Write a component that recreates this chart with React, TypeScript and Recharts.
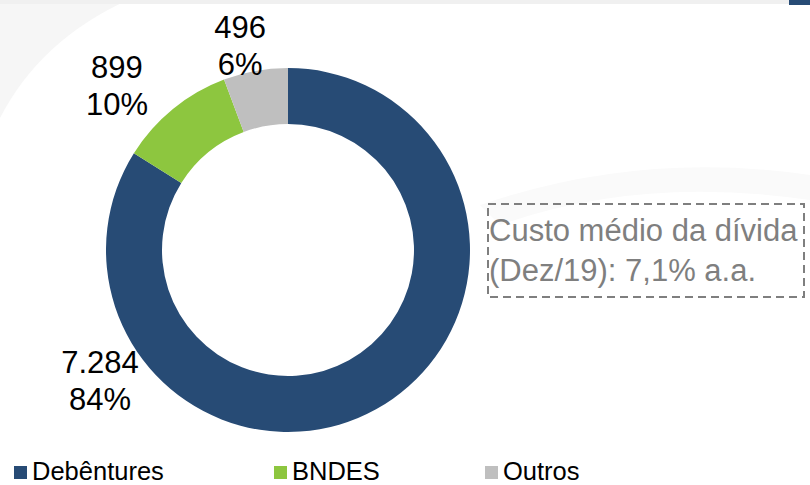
import React from "react";
import { PieChart, Pie, Cell, Legend } from "recharts";

const categories = ["Debêntures", "BNDES", "Outros"];
const values = [7284, 899, 496];
const colors = ["#274B75", "#8DC63F", "#BFBFBF"];
const noteLines = ["Custo médio da dívida", "(Dez/19): 7,1% a.a."];

const data = categories.map((name, i) => ({ name, value: values[i] }));

// polar placement of each label block relative to the pie centre (deg, px)
const LABEL_PLACEMENT = [
  { angle: -145.2, dist: 229 },
  { angle: 136.2, dist: 237 },
  { angle: 103.2, dist: 210 },
];

const FONT = "'Liberation Sans', Arial, sans-serif";

const fmt = (v: number) => String(v).replace(/\B(?=(\d{3})+(?!\d))/g, ".");

const renderLabel = (props: any) => {
  const { cx, cy, index, value, percent } = props;
  const p = LABEL_PLACEMENT[index];
  const rad = (p.angle * Math.PI) / 180;
  const x = cx + p.dist * Math.cos(rad);
  const y = cy - p.dist * Math.sin(rad);
  return (
    <text
      key={`lbl-${index}`}
      textAnchor="middle"
      fontFamily={FONT}
      fontSize={31}
      fill="#000"
    >
      <tspan x={x} y={y - 18.5} dominantBaseline="central">
        {fmt(value)}
      </tspan>
      <tspan x={x} y={y + 18.5} dominantBaseline="central">
        {Math.round(percent * 100)}%
      </tspan>
    </text>
  );
};

const legendOffsets = [14, 274, 485];

const renderLegend = () => (
  <div style={{ position: "relative", width: 810, height: 25 }}>
    {categories.map((c, i) => (
      <div
        key={c}
        style={{
          position: "absolute",
          left: legendOffsets[i],
          top: 0,
          height: 25,
          display: "flex",
          alignItems: "flex-start",
          whiteSpace: "nowrap",
        }}
      >
        <div
          style={{
            width: 13,
            height: 13,
            background: colors[i],
            marginTop: 7,
            marginRight: 5,
          }}
        />
        <span
          style={{
            fontFamily: FONT,
            fontSize: 25.5,
            lineHeight: "25px",
            color: "#000",
          }}
        >
          {c}
        </span>
      </div>
    ))}
  </div>
);

export default function App() {
  return (
    <div
      style={{
        position: "fixed",
        left: 0,
        top: 0,
        width: 810,
        height: 485,
        background: "#fff",
        overflow: "hidden",
      }}
    >
      <svg
        width={810}
        height={485}
        style={{ position: "absolute", left: 0, top: 0 }}
      >
        <path d="M0,0 L128,0 Q40,40 0,118 Z" fill="#F6F6F6" />
        <path
          d="M480,205 Q640,150 810,175 L810,200 Q640,175 500,225 Z"
          fill="#FAFAFA"
        />
        <rect x={0} y={0} width={810} height={4} fill="#F0F0F0" />
        <rect x={789} y={0} width={21} height={5} fill="#274B75" />
      </svg>
      <div style={{ position: "absolute", left: 0, top: 0 }}>
        <PieChart
          width={810}
          height={485}
          margin={{ top: 0, right: 0, bottom: 0, left: 0 }}
        >
          <Pie
            data={data}
            dataKey="value"
            nameKey="name"
            cx={288}
            cy={250}
            innerRadius={126}
            outerRadius={182}
            startAngle={90}
            endAngle={-270}
            stroke="none"
            isAnimationActive={false}
            label={renderLabel}
            labelLine={false}
          >
            {data.map((d, i) => (
              <Cell key={d.name} fill={colors[i]} />
            ))}
          </Pie>
          <Legend
            content={renderLegend}
            wrapperStyle={{
              position: "absolute",
              left: 0,
              top: 459,
              width: 810,
              height: 25,
            }}
          />
        </PieChart>
      </div>
      <svg
        width={810}
        height={485}
        style={{ position: "absolute", left: 0, top: 0, pointerEvents: "none" }}
      >
        <rect
          x={488}
          y={204}
          width={316}
          height={93}
          fill="none"
          stroke="#7F7F7F"
          strokeWidth={2}
          strokeDasharray="8 5"
        />
        {noteLines.map((t, i) => (
          <text
            key={t}
            x={489}
            y={241 + i * 40}
            fontFamily={FONT}
            fontSize={31}
            fill="#7F7F7F"
          >
            {t}
          </text>
        ))}
      </svg>
    </div>
  );
}
